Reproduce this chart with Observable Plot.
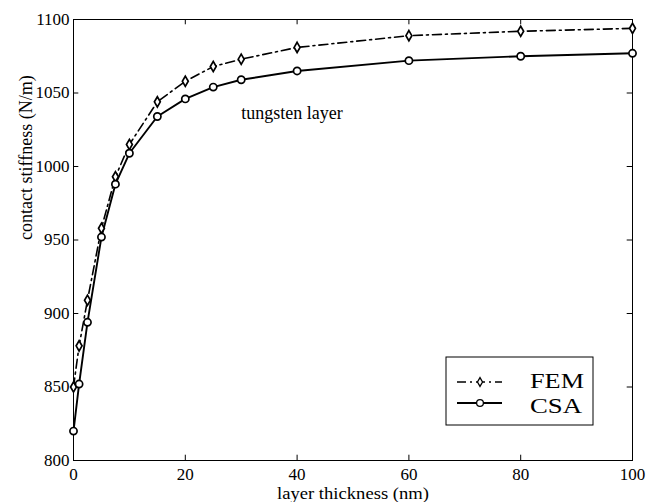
<!DOCTYPE html>
<html>
<head>
<meta charset="utf-8">
<script src="https://cdn.jsdelivr.net/npm/d3@7"></script>
<script src="https://cdn.jsdelivr.net/npm/@observablehq/plot@0.6"></script>
<style>
  body { margin: 0; background: #fff; }
  #chart svg { display: block; }
</style>
</head>
<body>
<div id="chart"></div>
<script>
// Layer thickness (nm) and the contact stiffness (N/m) from both methods
const thickness    = [0, 1, 2.5, 5, 7.5, 10, 15, 20, 25, 30, 40, 60, 80, 100];
const femStiffness = [850, 878, 909, 958, 993, 1015, 1044, 1058, 1068, 1073, 1081, 1089, 1092, 1094];
const csaStiffness = [820, 852, 894, 952, 988, 1009, 1034, 1046, 1054, 1059, 1065, 1072, 1075, 1077];

const xTicks = [0, 20, 40, 60, 80, 100];
const yTicks = [800, 850, 900, 950, 1000, 1050, 1100];

const seriesNames = ["FEM", "CSA"];
const xLabel = "layer thickness (nm)";
const yLabel = "contact stiffness (N/m)";
const note = "tungsten layer";

const fem = thickness.map((t, i) => ({t, v: femStiffness[i]}));
const csa = thickness.map((t, i) => ({t, v: csaStiffness[i]}));

const serif = "'Liberation Serif', 'Times New Roman', Times, serif";
const dashDot = "9,4,2,4";

const chart = Plot.plot({
  width: 658,
  height: 502,
  marginLeft: 73,
  marginRight: 26,
  marginTop: 19,
  marginBottom: 42,
  style: {fontFamily: serif, background: "white", color: "black"},
  x: {domain: [0, 100]},
  y: {domain: [800, 1100]},
  marks: [
    // tick labels
    Plot.axisX({ticks: xTicks, tickSize: 0, tickPadding: 7, fontSize: 17, label: null, tickFormat: d => String(d)}),
    Plot.axisY({ticks: yTicks, tickSize: 0, tickPadding: 4, fontSize: 17, label: null, tickFormat: d => String(d)}),
    // inward ticks on all four sides of the box
    Plot.ruleX(xTicks, {x: d => d, y1: 800, y2: 803.6, stroke: "black", strokeWidth: 1}),
    Plot.ruleX(xTicks, {x: d => d, y1: 1100, y2: 1096.4, stroke: "black", strokeWidth: 1}),
    Plot.ruleY(yTicks, {y: d => d, x1: 0, x2: 0.95, stroke: "black", strokeWidth: 1}),
    Plot.ruleY(yTicks, {y: d => d, x1: 100, x2: 99.05, stroke: "black", strokeWidth: 1}),
    Plot.frame({stroke: "black", strokeWidth: 1}),
    // axis titles
    Plot.text([xLabel], {frameAnchor: "bottom", lineAnchor: "top", dy: 26, fontSize: 17, fill: "black"}),
    Plot.text([yLabel], {frameAnchor: "left", rotate: -90, lineAnchor: "middle", dx: -47.5, fontSize: 18, fill: "black"}),
    // series
    Plot.line(fem, {x: "t", y: "v", stroke: "black", strokeWidth: 1.6, strokeDasharray: dashDot}),
    Plot.line(csa, {x: "t", y: "v", stroke: "black", strokeWidth: 1.9}),
    Plot.dot(fem, {x: "t", y: "v", symbol: "diamond", r: 3.1, fill: "white", stroke: "black", strokeWidth: 1.7}),
    Plot.dot(csa, {x: "t", y: "v", symbol: "circle", r: 3.6, fill: "white", stroke: "black", strokeWidth: 1.7}),
    // annotation
    Plot.text([note], {x: 30, y: 1041, textAnchor: "start", lineAnchor: "top", fontSize: 18, fill: "black"})
  ]
});

const svg = d3.select(chart);

// the x title is set slightly wide, like the rest of the lettering
svg.selectAll("text").filter(function () { return this.textContent === xLabel; })
  .attr("textLength", 152).attr("lengthAdjust", "spacingAndGlyphs");

// Legend box in the lower right of the axes
const lg = svg.append("g").attr("font-family", serif).attr("text-anchor", "start");
lg.append("rect")
  .attr("x", 446).attr("y", 357).attr("width", 147).attr("height", 68)
  .attr("fill", "white").attr("stroke", "black").attr("stroke-width", 1);
const rows = [
  {name: seriesNames[0], y: 382, base: 388, len: 54, dash: dashDot, width: 1.4, sym: d3.symbolDiamond, size: 22},
  {name: seriesNames[1], y: 403, base: 413, len: 52, dash: null, width: 1.9, sym: d3.symbolCircle, size: 36}
];
for (const r of rows) {
  lg.append("line")
    .attr("x1", 457).attr("x2", 502).attr("y1", r.y).attr("y2", r.y)
    .attr("stroke", "black").attr("stroke-width", r.width)
    .attr("stroke-dasharray", r.dash);
  lg.append("path")
    .attr("d", d3.symbol(r.sym, r.size)())
    .attr("transform", `translate(480,${r.y})`)
    .attr("fill", "white").attr("stroke", "black").attr("stroke-width", 1.3);
  lg.append("text")
    .attr("x", 530).attr("y", r.base)
    .attr("text-anchor", "start")
    .attr("font-size", 22).attr("fill", "black")
    .attr("textLength", r.len).attr("lengthAdjust", "spacingAndGlyphs")
    .text(r.name);
}

document.getElementById("chart").appendChild(chart);
</script>
</body>
</html>
